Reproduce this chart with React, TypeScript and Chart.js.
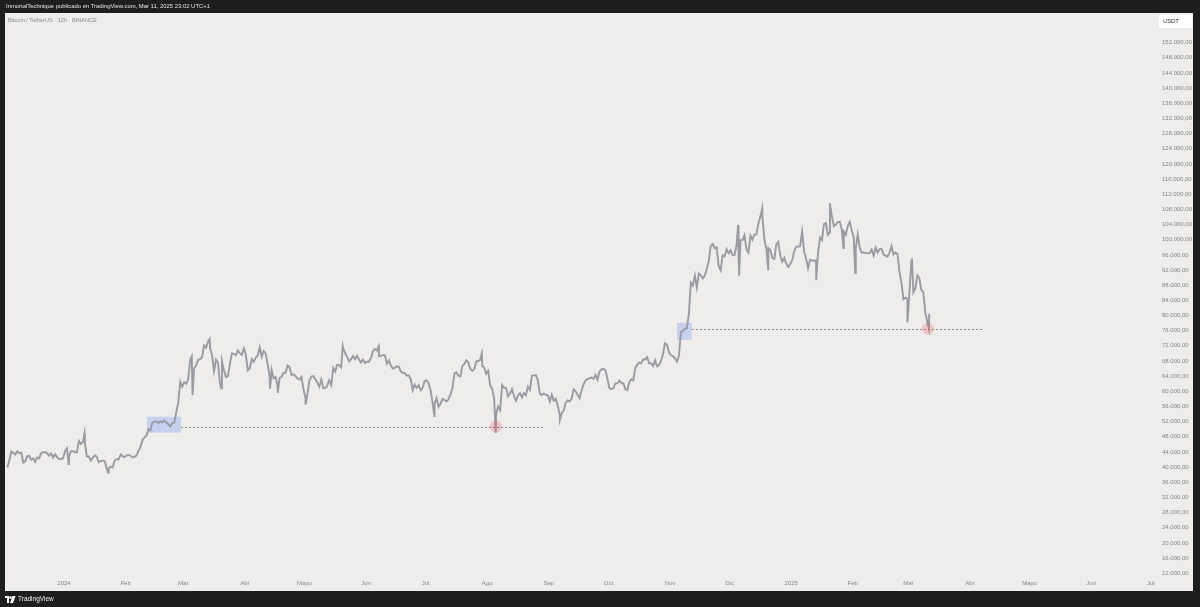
import React, { useEffect, useRef } from "react";
import { Chart, registerables } from "chart.js";

Chart.register(...registerables);

// Day index is counted from Jan 1 2024 (0). Daily closes start on Dec 3 2023.
const FIRST_DAY = -29;
// Daily closes, thousands of USDT (Dec 3 2023 .. Mar 11 2025)
const closesK: number[] = [
  // Dec 2023 (3..31)
  39.9, 41.9, 44.1, 43.8, 43.3, 44.2, 43.7, 43.8, 41.2, 41.5, 42.9, 43.0, 41.9, 42.3, 41.4, 42.6, 42.3, 43.7, 43.9, 43.9, 43.7, 43.0, 43.6, 42.5, 43.4, 42.6, 42.1, 42.1, 42.3,
  // Jan 2024
  44.2, 45.0, 42.8, 44.2, 44.2, 43.9, 43.9, 46.9, 46.1, 46.6, 46.3, 42.8, 42.8, 41.7, 42.5, 43.1, 42.7, 41.3, 41.6, 41.7, 41.6, 39.5, 39.8, 40.1, 39.9, 41.8, 42.1, 42.0, 43.3, 42.9, 42.6,
  // Feb
  43.1, 43.2, 43.0, 42.6, 42.7, 43.1, 44.3, 45.3, 47.1, 47.8, 48.3, 50.0, 49.7, 51.8, 51.9, 52.1, 51.6, 52.1, 51.8, 52.3, 51.8, 51.3, 50.7, 51.6, 51.7, 54.5, 57.0, 62.5, 61.2,
  // Mar
  62.4, 62.0, 63.1, 68.3, 63.8, 66.1, 66.9, 68.3, 68.5, 69.0, 72.1, 71.5, 73.1, 71.4, 69.5, 65.3, 68.4, 67.6, 62.0, 67.9, 65.5, 63.8, 64.0, 67.2, 70.0, 69.9, 69.5, 70.8, 70.0, 69.6, 71.3,
  // Apr
  69.7, 65.5, 66.0, 68.5, 67.8, 68.9, 69.4, 71.6, 69.1, 70.6, 70.0, 67.1, 64.0, 65.7, 63.4, 63.8, 61.3, 63.5, 63.8, 64.9, 64.9, 66.8, 66.4, 64.3, 64.5, 64.0, 63.4, 63.1, 63.8, 60.6,
  // May
  58.3, 59.1, 62.9, 63.9, 64.0, 63.2, 62.3, 61.2, 63.1, 60.8, 60.8, 61.5, 62.9, 61.6, 66.2, 65.2, 67.0, 66.9, 66.3, 71.4, 70.1, 69.1, 67.9, 68.5, 69.3, 68.5, 69.4, 68.4, 67.6, 68.4, 67.5,
  // Jun
  67.8, 67.8, 68.8, 70.6, 71.1, 70.8, 69.3, 69.3, 69.6, 69.5, 67.3, 68.2, 66.8, 66.0, 66.2, 66.6, 66.5, 65.2, 64.9, 64.8, 64.1, 64.2, 63.2, 60.3, 61.8, 60.9, 61.6, 60.3, 60.9, 62.7,
  // Jul
  62.9, 62.1, 60.2, 57.0, 56.6, 58.2, 55.9, 56.7, 58.0, 57.7, 57.3, 57.9, 59.2, 60.8, 64.7, 65.0, 64.1, 63.9, 66.7, 67.2, 68.2, 67.6, 65.9, 65.4, 65.8, 67.9, 68.0, 68.3, 66.8, 66.2, 64.6,
  // Aug
  65.4, 61.5, 60.7, 58.1, 54.0, 56.0, 55.0, 61.7, 60.9, 60.9, 58.7, 59.4, 60.6, 58.7, 57.5, 58.9, 59.5, 58.4, 59.5, 59.0, 61.2, 60.4, 64.1, 64.2, 64.3, 62.9, 59.4, 59.0, 59.4, 59.1, 58.9,
  // Sep
  57.3, 59.1, 57.5, 58.0, 56.2, 53.9, 54.2, 54.9, 57.0, 57.6, 57.3, 58.1, 60.5, 60.0, 59.1, 58.2, 60.3, 61.8, 62.9, 63.2, 63.4, 63.6, 63.3, 64.3, 63.1, 65.2, 65.8, 65.9, 65.6, 63.3,
  // Oct
  60.8, 60.6, 60.8, 62.1, 62.1, 62.8, 62.2, 62.1, 60.6, 60.3, 62.4, 63.2, 62.9, 66.0, 67.0, 67.6, 67.4, 68.4, 68.4, 69.0, 67.4, 67.4, 66.7, 68.2, 66.6, 67.0, 68.0, 69.9, 72.7, 72.3, 70.2,
  // Nov
  69.5, 69.3, 68.7, 67.8, 69.4, 75.6, 75.9, 76.5, 76.7, 80.4, 88.7, 87.9, 90.5, 87.4, 91.1, 90.6, 89.8, 90.5, 92.3, 94.3, 98.3, 98.9, 97.7, 98.0, 93.0, 91.9, 95.9, 95.6, 97.5, 96.4,
  // Dec
  97.2, 95.9, 96.0, 98.6, 97.0, 99.9, 99.9, 101.2, 97.4, 96.6, 101.1, 100.0, 101.4, 101.4, 104.3, 106.1, 106.1, 100.2, 97.5, 97.8, 97.3, 95.2, 94.9, 98.7, 99.4, 95.8, 94.2, 95.2, 93.7, 92.8, 93.6,
  // Jan 2025
  94.6, 96.9, 98.1, 98.2, 98.3, 102.2, 96.9, 95.0, 92.5, 94.7, 94.5, 94.5, 94.5, 96.5, 100.5, 99.9, 104.1, 104.4, 101.3, 102.0, 106.1, 103.6, 104.0, 104.7, 104.7, 102.6, 102.1, 101.3, 103.7, 104.7, 102.4,
  // Feb
  100.6, 97.7, 101.4, 97.9, 96.6, 96.6, 96.5, 96.4, 96.5, 97.4, 95.8, 97.9, 96.6, 97.5, 97.6, 96.1, 95.8, 95.5, 96.6, 98.3, 96.1, 96.6, 96.2, 91.5, 88.7, 84.3, 84.7, 84.4,
  // Mar 2025
  86.1, 94.3, 86.1, 87.2, 90.6, 89.9, 86.7, 86.2, 80.7, 78.5, 80.5,
];

// Intraday extremes (day index with fraction, thousands of USDT)
const wickDays: number[] = [2.3, 10.3, 22.3, 64.3, 64.7, 73.3, 79.2, 103.7, 107.6, 121.6, 140.3, 158.4, 186.4, 210.3, 217.3, 249.6, 339.3, 339.8, 351.4, 354.4, 378.6, 385.5, 392.3, 398.2, 424.5, 426.8, 435.3];
const wickPricesK: number[] = [40.8, 48.9, 38.5, 69.2, 59.0, 73.8, 60.8, 60.7, 59.6, 56.5, 71.9, 71.9, 53.5, 70.0, 49.0, 52.5, 103.9, 90.5, 108.3, 92.2, 89.3, 109.6, 97.8, 91.2, 78.2, 95.0, 76.6];

const yTicks: number[] = [12000, 16000, 20000, 24000, 28000, 32000, 36000, 40000, 44000, 48000, 52000, 56000, 60000, 64000, 68000, 72000, 76000, 80000, 84000, 88000, 92000, 96000, 100000, 104000, 108000, 112000, 116000, 120000, 124000, 128000, 132000, 136000, 140000, 144000, 148000, 152000];
const monthTickDays: number[] = [0, 31, 60, 91, 121, 152, 182, 213, 244, 274, 305, 335, 366, 397, 425, 456, 486, 517, 547];
const monthTickLabels: string[] = ["2024", "Feb", "Mar", "Abr", "Mayo", "Jun", "Jul", "Ago", "Sep", "Oct", "Nov", "Dic", "2025", "Feb", "Mar", "Abr", "Mayo", "Jun", "Jul"];

// Drawing annotations (data coordinates)
const zoneStartDays: number[] = [41.8, 308.5];
const zoneEndDays: number[] = [58.9, 316.0];
const zoneLows: number[] = [49100, 73600];
const zoneHighs: number[] = [53300, 78050];
const levelPrices: number[] = [50700, 76500];
const levelStartDays: number[] = [58.9, 316.0];
const levelEndDays: number[] = [242.0, 462.0];
const markerDays: number[] = [217.4, 434.8];
const markerPrices: number[] = [50700, 76500];

const X_MIN = -29.7;
const X_MAX = 547.1;
const Y_MIN = 11000;
const Y_MAX = 159400;

function fmtPrice(v: number): string {
  const s = Math.round(v).toString().replace(/\B(?=(\d{3})+(?!\d))/g, ".");
  return s + ",00";
}

function buildSeries() {
  const pts: { x: number; y: number }[] = [];
  closesK.forEach((c, i) => pts.push({ x: FIRST_DAY + i + 0.5, y: c * 1000 }));
  wickDays.forEach((d, i) => pts.push({ x: d, y: wickPricesK[i] * 1000 }));
  pts.sort((a, b) => a.x - b.x);
  return pts;
}

const panelPlugin = {
  id: "panel",
  beforeDraw(chart: any) {
    const ctx = chart.ctx;
    ctx.save();
    ctx.fillStyle = "#1e1e1e";
    ctx.fillRect(0, 0, chart.width, chart.height);
    ctx.fillStyle = "#eeedeb";
    ctx.fillRect(5, 13, 1188, 578);
    ctx.restore();
  },
  beforeDatasetsDraw(chart: any) {
    const { ctx, scales } = chart;
    const xs = scales.x, ys = scales.y;
    ctx.save();
    ctx.fillStyle = "rgba(41,98,255,0.2)";
    zoneStartDays.forEach((d, i) => {
      const x0 = xs.getPixelForValue(d);
      const x1 = xs.getPixelForValue(zoneEndDays[i]);
      const y0 = ys.getPixelForValue(zoneHighs[i]);
      const y1 = ys.getPixelForValue(zoneLows[i]);
      ctx.fillRect(x0, y0, x1 - x0, y1 - y0);
    });
    ctx.strokeStyle = "#8a8a8a";
    ctx.lineWidth = 1;
    ctx.setLineDash([2, 2]);
    levelPrices.forEach((p, i) => {
      const y = Math.round(ys.getPixelForValue(p)) + 0.5;
      ctx.beginPath();
      ctx.moveTo(xs.getPixelForValue(levelStartDays[i]), y);
      ctx.lineTo(xs.getPixelForValue(levelEndDays[i]), y);
      ctx.stroke();
    });
    ctx.restore();
  },
  afterDatasetsDraw(chart: any) {
    const { ctx, scales } = chart;
    ctx.save();
    ctx.fillStyle = "rgba(242,54,69,0.22)";
    markerDays.forEach((d, i) => {
      ctx.beginPath();
      ctx.arc(scales.x.getPixelForValue(d), scales.y.getPixelForValue(markerPrices[i]), 6, 0, Math.PI * 2);
      ctx.fill();
    });
    ctx.restore();
  },
};

export default function App() {
  const ref = useRef<HTMLCanvasElement | null>(null);
  useEffect(() => {
    if (!ref.current) return;
    const chart = new Chart(ref.current, {
      type: "line",
      data: {
        datasets: [
          {
            label: "BTCUSDT",
            data: buildSeries(),
            borderColor: "#999aa2",
            borderWidth: 1.9,
            pointRadius: 0,
            tension: 0,
            fill: false,
          },
        ],
      },
      options: {
        responsive: false,
        animation: false,
        layout: { padding: { left: 5, top: 13, right: 7, bottom: 16 } },
        plugins: { legend: { display: false }, tooltip: { enabled: false } },
        scales: {
          x: {
            type: "linear",
            min: X_MIN,
            max: X_MAX,
            border: { display: false },
            grid: { display: false, drawTicks: false },
            afterBuildTicks: (s: any) => {
              s.ticks = monthTickDays.map((v) => ({ value: v }));
            },
            afterFit: (s: any) => {
              s.height = 14;
            },
            ticks: {
              autoSkip: false,
              maxRotation: 0,
              padding: 3,
              color: "#858585",
              font: { size: 6, family: "'Liberation Sans', Arial, sans-serif" },
              callback: (_v: any, i: number) => monthTickLabels[i],
            },
          },
          y: {
            type: "linear",
            position: "right",
            min: Y_MIN,
            max: Y_MAX,
            border: { display: false },
            grid: { display: false, drawTicks: false },
            afterBuildTicks: (s: any) => {
              s.ticks = yTicks.map((v) => ({ value: v }));
            },
            afterFit: (s: any) => {
              s.width = 42;
            },
            ticks: {
              autoSkip: false,
              padding: 11,
              color: "#858585",
              font: { size: 6, family: "'Liberation Sans', Arial, sans-serif" },
              callback: (v: any) => fmtPrice(Number(v)),
            },
          },
        },
      },
      plugins: [panelPlugin],
    });
    return () => chart.destroy();
  }, []);

  const font = "'Liberation Sans', Arial, sans-serif";
  return (
    <div style={{ position: "fixed", left: 0, top: 0, width: 1200, height: 607, background: "#1e1e1e", overflow: "hidden" }}>
      <canvas ref={ref} width={1200} height={607} style={{ display: "block", position: "absolute", left: 0, top: 0 }} />
      <div style={{ position: "absolute", left: 6, top: 3, fontFamily: font, fontSize: 5.9, color: "#e6e6e6", whiteSpace: "nowrap", lineHeight: "7px" }}>
        InmortalTechnique publicado en TradingView.com, Mar 11, 2025 23:02 UTC+1
      </div>
      <div style={{ position: "absolute", left: 8, top: 17, fontFamily: font, fontSize: 5.6, color: "#8c8c8c", whiteSpace: "nowrap", lineHeight: "7px" }}>
        Bitcoin / TetherUS · 12h · BINANCE
      </div>
      <div style={{ position: "absolute", left: 1159, top: 15, width: 33, height: 13, background: "#ffffff", fontFamily: font, fontSize: 5.8, color: "#333", lineHeight: "13px", paddingLeft: 4, boxSizing: "border-box" }}>
        USDT
      </div>
      <div style={{ position: "absolute", left: 5, top: 595, display: "flex", alignItems: "center", gap: 2 }}>
        <svg width="11" height="7" viewBox="0 0 22 14">
          <path d="M0 0h8v14H4V4H0z" fill="#fff" />
          <circle cx="11" cy="3" r="2.6" fill="#fff" />
          <path d="M15 0h6l-5 14h-6z" fill="#fff" />
        </svg>
        <span style={{ fontFamily: font, fontSize: 6.5, color: "#f0f0f0", lineHeight: "8px" }}>TradingView</span>
      </div>
    </div>
  );
}
